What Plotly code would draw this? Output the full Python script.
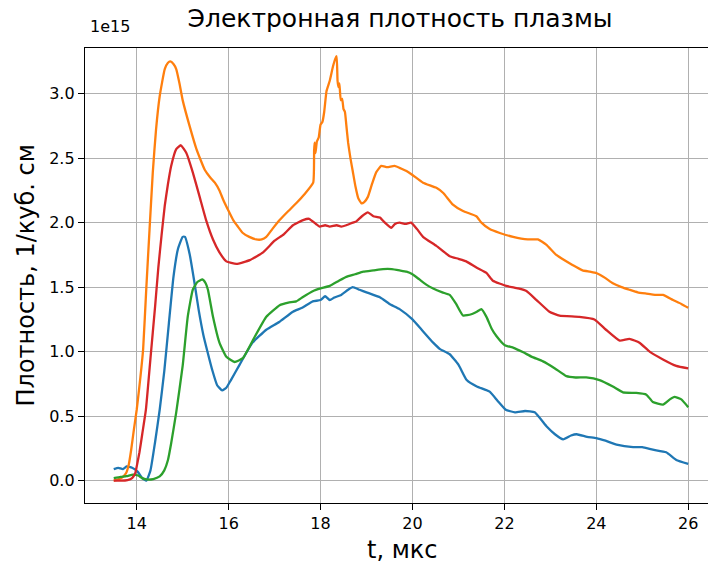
import plotly.graph_objects as go

# Electron density of the plasma, in units of 1e15 per cubic cm, four shots
SCALE = 1e15

t_c0 = [13.5, 13.6, 13.7, 13.78, 13.9, 14.02, 14.12, 14.21, 14.3, 14.4, 14.5, 14.6, 14.7, 14.8,
        14.9, 15.0, 15.05, 15.15, 15.25, 15.35, 15.45, 15.54, 15.65, 15.75, 15.86, 15.95, 16.05,
        16.24, 16.52, 16.82, 17.1, 17.4, 17.6, 17.83, 18.0, 18.1, 18.2, 18.3, 18.45, 18.6, 18.7,
        18.85, 19.0, 19.3, 19.5, 19.72, 20.0, 20.2, 20.45, 20.6, 20.81, 21.0, 21.18, 21.4, 21.68,
        21.85, 22.03, 22.23, 22.45, 22.66, 22.92, 23.1, 23.28, 23.45, 23.57, 23.8, 24.0, 24.2,
        24.44, 24.8, 25.0, 25.23, 25.52, 25.74, 26.0]
n_c0 = [0.09, 0.10, 0.09, 0.11, 0.10, 0.07, 0.02, 0.0, 0.08, 0.30, 0.55, 0.85, 1.22, 1.58,
        1.80, 1.89, 1.89, 1.76, 1.55, 1.32, 1.13, 1.00, 0.85, 0.74, 0.70, 0.72, 0.78,
        0.90, 1.07, 1.17, 1.23, 1.31, 1.34, 1.39, 1.40, 1.43, 1.40, 1.42, 1.44, 1.48, 1.50,
        1.48, 1.46, 1.42, 1.37, 1.33, 1.25, 1.17, 1.07, 1.02, 0.98, 0.90, 0.78, 0.73, 0.69,
        0.62, 0.55, 0.53, 0.54, 0.53, 0.42, 0.36, 0.32, 0.35, 0.36, 0.34, 0.33, 0.31,
        0.28, 0.26, 0.26, 0.24, 0.22, 0.16, 0.13]

t_c1 = [13.5, 13.6, 13.7, 13.77, 13.83, 13.88, 13.94, 14.0, 14.08, 14.14, 14.21, 14.28, 14.35,
        14.42, 14.5, 14.61, 14.68, 14.73, 14.8, 14.86, 14.93, 15.0, 15.15, 15.3, 15.48, 15.6,
        15.7, 15.8, 15.88, 16.0, 16.1, 16.2, 16.31, 16.45, 16.6, 16.72, 16.82, 16.95, 17.11,
        17.3, 17.47, 17.65, 17.84, 17.86, 17.87, 17.89, 17.92, 17.96, 18.0, 18.04, 18.08, 18.13,
        18.2, 18.27, 18.32, 18.35, 18.37, 18.39, 18.41, 18.44, 18.47, 18.5, 18.53, 18.56, 18.6,
        18.65, 18.7, 18.76, 18.82, 18.89, 18.95, 19.03, 19.12, 19.21, 19.32, 19.45, 19.61,
        19.75, 19.87, 20.0, 20.23, 20.52, 20.67, 20.88, 21.1, 21.39, 21.5, 21.68, 21.9, 22.19,
        22.51, 22.73, 22.91, 23.13, 23.3, 23.49, 23.7, 23.86, 24.0, 24.2, 24.36, 24.55, 24.72,
        24.9, 25.09, 25.3, 25.45, 25.67, 25.85, 26.0]
n_c1 = [0.0, 0.01, 0.03, 0.06, 0.13, 0.24, 0.40, 0.55, 0.80, 1.02, 1.50, 1.95, 2.39,
        2.72, 2.98, 3.19, 3.24, 3.25, 3.23, 3.19, 3.08, 2.95, 2.75, 2.57, 2.41, 2.35,
        2.31, 2.25, 2.18, 2.09, 2.02, 1.97, 1.92, 1.89, 1.87, 1.87, 1.89, 1.95, 2.02,
        2.09, 2.15, 2.22, 2.31, 2.56, 2.62, 2.54, 2.63, 2.66, 2.76, 2.78, 2.86, 3.02,
        3.10, 3.21, 3.27, 3.29, 3.10, 3.05, 3.08, 2.95, 2.96, 2.88, 2.86, 2.76, 2.62,
        2.50, 2.40, 2.28, 2.19, 2.15, 2.16, 2.20, 2.30, 2.39, 2.44, 2.43, 2.44,
        2.42, 2.40, 2.37, 2.31, 2.27, 2.23, 2.14, 2.09, 2.05, 2.00, 1.95, 1.92, 1.89,
        1.87, 1.87, 1.83, 1.75, 1.71, 1.67, 1.63, 1.62, 1.61, 1.57, 1.53, 1.50, 1.48,
        1.46, 1.45, 1.44, 1.44, 1.40, 1.37, 1.34]

t_c2 = [13.5, 13.65, 13.78, 13.92, 14.03, 14.12, 14.21, 14.36, 14.5, 14.6, 14.68, 14.75, 14.86,
        15.0, 15.11, 15.22, 15.32, 15.43, 15.5, 15.55, 15.66, 15.8, 15.95, 16.13, 16.31, 16.53,
        16.82, 17.11, 17.3, 17.47, 17.6, 17.84, 18.0, 18.2, 18.4, 18.56, 18.75, 18.93, 19.15,
        19.36, 19.55, 19.72, 19.87, 20.0, 20.15, 20.3, 20.45, 20.65, 20.81, 20.95, 21.1, 21.28,
        21.4, 21.5, 21.61, 21.72, 21.83, 22.01, 22.2, 22.41, 22.6, 22.84, 23.1, 23.35, 23.55,
        23.78, 24.07, 24.36, 24.58, 24.87, 25.09, 25.23, 25.45, 25.6, 25.7, 25.85, 26.0]
n_c2 = [0.02, 0.03, 0.035, 0.047, 0.04, 0.02, 0.01, 0.013, 0.033, 0.08, 0.16, 0.29, 0.53,
        0.89, 1.27, 1.48, 1.54, 1.56, 1.53, 1.48, 1.27, 1.07, 0.96, 0.92, 0.95, 1.09,
        1.27, 1.36, 1.38, 1.39, 1.42, 1.47, 1.49, 1.51, 1.55, 1.58, 1.60, 1.62, 1.63,
        1.64, 1.64, 1.63, 1.62, 1.60, 1.56, 1.52, 1.49, 1.46, 1.44, 1.37, 1.28, 1.29,
        1.31, 1.33, 1.27, 1.18, 1.12, 1.05, 1.03, 0.995, 0.96, 0.925, 0.87, 0.81, 0.80,
        0.80, 0.78, 0.73, 0.685, 0.68, 0.667, 0.61, 0.59, 0.63, 0.65, 0.63, 0.57]

t_c3 = [13.5, 13.65, 13.8, 13.9, 13.97, 14.0, 14.06, 14.12, 14.2, 14.3, 14.4, 14.47, 14.54,
        14.61, 14.68, 14.75, 14.86, 14.96, 15.08, 15.22, 15.37, 15.51, 15.66, 15.8, 15.95,
        16.17, 16.46, 16.75, 17.0, 17.2, 17.4, 17.62, 17.75, 17.9, 17.98, 18.1, 18.2, 18.35,
        18.45, 18.56, 18.7, 18.78, 18.9, 19.03, 19.15, 19.29, 19.4, 19.54, 19.62, 19.72, 19.85,
        19.97, 20.1, 20.23, 20.52, 20.81, 21.0, 21.17, 21.4, 21.61, 21.75, 22.04, 22.3, 22.48,
        22.7, 22.98, 23.2, 23.63, 23.96, 24.21, 24.51, 24.72, 24.94, 25.16, 25.45, 25.74, 26.0]
n_c3 = [0.0, 0.0, 0.005, 0.02, 0.06, 0.11, 0.22, 0.36, 0.55, 0.95, 1.35, 1.65, 1.90,
        2.13, 2.30, 2.44, 2.57, 2.60, 2.54, 2.39, 2.20, 2.02, 1.87, 1.77, 1.70,
        1.68, 1.71, 1.77, 1.86, 1.91, 1.98, 2.02, 2.03, 1.99, 1.97, 1.98, 1.97, 1.98,
        1.97, 1.98, 2.00, 2.01, 2.05, 2.08, 2.05, 2.04, 2.00, 1.96, 1.99, 2.00, 1.99,
        2.00, 1.95, 1.89, 1.82, 1.74, 1.72, 1.70, 1.65, 1.61, 1.55, 1.51, 1.49, 1.47,
        1.40, 1.31, 1.28, 1.27, 1.25, 1.17, 1.085, 1.10, 1.07, 1.00, 0.94, 0.89, 0.87]

series = [
    (t_c0, n_c0, "#1f77b4"),
    (t_c1, n_c1, "#ff7f0e"),
    (t_c2, n_c2, "#2ca02c"),
    (t_c3, n_c3, "#d62728"),
]

x_ticks = [14, 16, 18, 20, 22, 24, 26]
y_ticks = [0.0, 0.5, 1.0, 1.5, 2.0, 2.5, 3.0]
y_tick_text = ["0.0", "0.5", "1.0", "1.5", "2.0", "2.5", "3.0"]

FONT = "DejaVu Sans"
W, H = 708, 565
ML, MR, MT, MB = 85, 0, 48, 62
PW, PH = W - ML - MR, H - MT - MB

fig = go.Figure()
for t, n, color in series:
    fig.add_trace(go.Scatter(
        x=t, y=[v * SCALE for v in n], mode="lines",
        line=dict(color=color, width=2.3, shape="spline", smoothing=0.4),
        showlegend=False,
    ))

fig.update_layout(
    width=W, height=H,
    margin=dict(l=ML, r=MR, t=MT, b=MB),
    paper_bgcolor="white", plot_bgcolor="white",
    font=dict(family=FONT, color="black", size=16),
    title=dict(
        text="Электронная плотность плазмы",
        font=dict(family=FONT, size=25, color="black"),
        x=(400 - ML) / PW, xref="paper", xanchor="center",
        y=1 - 18 / H, yref="container", yanchor="middle",
    ),
    xaxis=dict(
        range=[12.875, 12.875 + PW / 45.96],
        tickvals=x_ticks, ticks="outside", ticklen=6, tickwidth=1.3, tickcolor="black",
        showgrid=True, gridcolor="#b0b0b0", gridwidth=1,
        showline=True, linecolor="black", linewidth=1.3, mirror=True,
        zeroline=False, tickfont=dict(family=FONT, size=16, color="black"),
    ),
    yaxis=dict(
        range=[-0.173 * SCALE, 3.354 * SCALE],
        tickvals=[v * SCALE for v in y_ticks], ticktext=y_tick_text,
        ticks="outside", ticklen=6, tickwidth=1.3, tickcolor="black",
        showgrid=True, gridcolor="#b0b0b0", gridwidth=1,
        showline=True, linecolor="black", linewidth=1.3,
        zeroline=False, tickfont=dict(family=FONT, size=16, color="black"),
    ),
    annotations=[
        dict(text="1e15", xref="paper", yref="paper", x=(88 - ML) / PW,
             y=1 + 10 / PH, xanchor="left", yanchor="bottom",
             showarrow=False, font=dict(family=FONT, size=16, color="black")),
        dict(text="Плотность, 1/куб. см", xref="paper", yref="paper",
             x=-(ML - 25) / PW, y=0.5, xanchor="center", yanchor="middle",
             textangle=-90, showarrow=False, font=dict(family=FONT, size=24, color="black")),
        dict(text="t, мкс", xref="paper", yref="paper",
             x=(402 - ML) / PW, y=-(550 - (H - MB)) / PH,
             xanchor="center", yanchor="middle",
             showarrow=False, font=dict(family=FONT, size=24, color="black")),
    ],
)

fig.write_html("out.html")
